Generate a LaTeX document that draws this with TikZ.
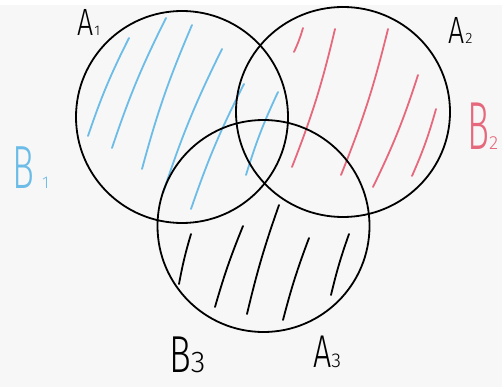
\documentclass[tikz,border=0pt]{standalone}
\usepackage{fontspec}
\usepackage{graphicx}
\newfontfamily\handfont{Fira Sans Light}
\usetikzlibrary{positioning}
\definecolor{bggray}{RGB}{247,247,247}
\definecolor{hatchblue}{RGB}{108,188,232}
\definecolor{hatchred}{RGB}{230,104,124}
% letter, then a small digit sitting on the baseline
\newcommand{\hwlabel}[6]{\scalebox{#1}[1]{\fontsize{#2}{#2}\selectfont #3}\hspace{#4}{\fontsize{#5}{#5}\selectfont #6}}

\begin{document}
\begin{tikzpicture}[x=1pt, y=-1pt,
    ring/.style={draw=black, line width=1.8pt},
    hatch/.style={line width=1.8pt, line cap=round},
    lbl/.style={inner sep=0pt, anchor=base west, font=\handfont}]

    \useasboundingbox (0,0) rectangle (502,387);
    \fill[white] (0,0) rectangle (502,5);
    \fill[bggray] (0,5) rectangle (502,387);

    % hatching
    \foreach \xa/\ya/\xb/\yb in {129/38/88/136, 166/18/112/148, 192/25/142/169,
        222/49/163/193, 244/84/191/209, 278/92/246/175}
      \draw[hatch, hatchblue] (\xa,\ya) to[bend right=4] (\xb,\yb);
    \foreach \xa/\ya/\xb/\yb in {303/28/294/52, 335/29/292/167, 388/29/341/175,
        418/75/373/187, 436/109/412/176}
      \draw[hatch, hatchred] (\xa,\ya) to[bend left=4] (\xb,\yb);
    \foreach \xa/\ya/\xb/\yb in {191/234/179/284, 243/226/215/307, 279/205/247/314,
        309/238/283/320, 349/234/331/295}
      \draw[hatch, black] (\xa,\ya) to[bend right=3] (\xb,\yb);

    % circles
    \coordinate (cA1) at (182,117);
    \coordinate (cA2) at (343,112);
    \coordinate (cA3) at (263.5,226);
    \draw[ring] (cA1) circle[radius=106];
    \draw[ring] (cA2) ellipse[x radius=107, y radius=105];
    \draw[ring] (cA3) circle[radius=106];

    % labels
    \node[lbl] (labA1) at (77,36) {\hwlabel{.75}{38}{A}{1pt}{14}{1}};
    \node[lbl] (labA2) at (448,44) {\hwlabel{.75}{38}{A}{1pt}{15}{2}};
    \node[lbl] (labA3) at (313,367) {\hwlabel{.7}{46}{A}{0pt}{20}{3}};
    \node[lbl, text=hatchblue] (labB1) at (12,189) {\hwlabel{.6}{61}{B}{8pt}{17}{1}};
    \node[lbl, text=hatchred] (labB2) at (467,150) {\hwlabel{.54}{68}{B}{0pt}{19}{2}};
    \node[lbl] (labB3) at (169,372) {\hwlabel{.7}{52}{B}{0pt}{30}{3}};
\end{tikzpicture}
\end{document}
